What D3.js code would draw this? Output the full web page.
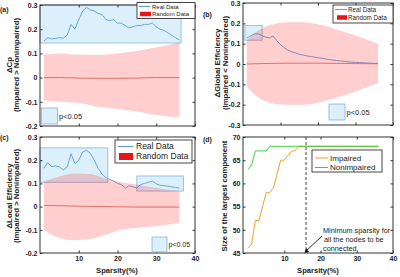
<!DOCTYPE html>
<html>
<head>
<meta charset="utf-8">
<script src="https://cdn.jsdelivr.net/npm/d3@7"></script>
<style>
body { margin: 0; background: #fff; }
svg { display: block; font-family: "Liberation Sans", Arial, sans-serif; }
</style>
</head>
<body>
<svg id="chart" width="400" height="277"></svg>
<script>
// sparsity levels (%)
const sparsity = [1,2,3,4,5,6,7,8,9,10,11,12,13,14,15,16,17,18,19,20,21,22,23,24,25,26,27,28,29,30,31,32,33,34,35,36];
const sparsityD = [0,1,2,3,4,5,6,7,8,9,10,11,12,13,14,15,16,17,18,19,20,21,22,23,24,25,26,27,28,29,30,31,32,33,34,35,36];

// (a) delta Cp
const realCp = [0.15,0.165,0.16,0.162,0.165,0.163,0.175,0.22,0.2,0.24,0.275,0.29,0.28,0.275,0.265,0.26,0.24,0.235,0.24,0.225,0.225,0.215,0.205,0.21,0.215,0.215,0.22,0.22,0.225,0.21,0.2,0.195,0.185,0.175,0.165,0.155];
const bandXA = [1,5,10,15,20,25,30,36];
const upperA = [0.095,0.1,0.095,0.093,0.1,0.11,0.125,0.145];
const lowerA = [-0.095,-0.1,-0.105,-0.12,-0.13,-0.14,-0.155,-0.165];
const meanA  = [0,0,-0.002,-0.003,-0.003,-0.002,0,0];
const sigA = [{x0: 0, x1: 36.4, y0: 0.143, y1: 0.3}];

// (b) delta global efficiency
const realGE = [0.128,0.138,0.148,0.148,0.14,0.132,0.128,0.138,0.115,0.095,0.08,0.068,0.06,0.054,0.048,0.044,0.04,0.037,0.034,0.031,0.028,0.025,0.022,0.019,0.017,0.015,0.013,0.011,0.009,0.008,0.007,0.006,0.005,0.004,0.003,0.003];
const bandXB = [1,3,5,8,12,16,20,25,30,36];
const upperB = [0.115,0.15,0.175,0.195,0.205,0.205,0.195,0.17,0.14,0.1];
const lowerB = [-0.11,-0.15,-0.175,-0.195,-0.2,-0.2,-0.19,-0.165,-0.135,-0.095];
const meanB  = [0,0.001,0.002,0.003,0.004,0.004,0.004,0.003,0.002,0.001];
const sigB = [{x0: 0.5, x1: 5.1, y0: 0.117, y1: 0.19}];

// (c) delta local efficiency
const realLE = [0.165,0.19,0.172,0.175,0.172,0.158,0.17,0.228,0.185,0.2,0.235,0.243,0.23,0.2,0.165,0.14,0.125,0.118,0.11,0.1,0.095,0.08,0.09,0.085,0.08,0.095,0.1,0.105,0.11,0.098,0.092,0.09,0.088,0.085,0.082,0.08];
const bandXC = [1,5,9,13,17,21,25,30,36];
const upperC = [0.108,0.13,0.143,0.14,0.12,0.105,0.095,0.08,0.065];
const lowerC = [-0.1,-0.135,-0.145,-0.14,-0.12,-0.1,-0.092,-0.085,-0.07];
const meanC  = [0.005,0.004,0.002,0.001,0,-0.001,-0.002,-0.002,-0.002];
const sigC = [{x0: 0, x1: 17.5, y0: 0.105, y1: 0.253}, {x0: 25, x1: 37, y0: 0.067, y1: 0.132}];

// (d) size of the largest component
const impaired    = [46,47,52,52,55,58,58,59,62,65,65,66,67,67,68,68,68,68,68,68,68,68,68,68,68,68,68,68,68,68,68,68,68,68,68,68,68];
const nonimpaired = [63,64,67,67,67,67,68,68,68,68,68,68,68,68,68,68,68,68,68,68,68,68,68,68,68,68,68,68,68,68,68,68,68,68,68,68,68];
const minSparsity = 16;

const ticksX = [10, 20, 30, 40];
const ticksY1 = [-0.2, -0.1, 0, 0.1, 0.2, 0.3];
const ticksY2 = [-0.3, -0.2, -0.1, 0, 0.1, 0.2, 0.3];
const ticksYD = [45, 50, 55, 60, 65, 70];

const blueLine = "#5e9dd3";
const boxFill = "#dcf0fb";
const boxStroke = "#88b4d6";
const bandFill = "#ff0000";

const svg = d3.select("#chart");

function panel(p) {
    const x = d3.scaleLinear().domain(p.xdom).range([p.left, p.right]);
    const y = d3.scaleLinear().domain(p.ydom).range([p.bottom, p.top]);
    const g = svg.append("g");
    return {x, y, g, p};
}

function frame(P, xLabels, yTicks) {
    const {x, y, g, p} = P;
    const fmt = v => String(v);
    g.append("g").attr("transform", `translate(${p.left},0)`)
        .call(d3.axisLeft(y).tickValues(yTicks).tickSize(-2.5).tickSizeOuter(0).tickPadding(2.5).tickFormat(fmt));
    g.append("g").attr("transform", `translate(${p.right},0)`)
        .call(d3.axisRight(y).tickValues(yTicks).tickSize(-2.5).tickSizeOuter(0).tickFormat(""));
    g.append("g").attr("transform", `translate(0,${p.bottom})`)
        .call(d3.axisBottom(x).tickValues(ticksX).tickSize(-2.5).tickSizeOuter(0).tickPadding(3.5)
            .tickFormat(xLabels ? fmt : ""));
    g.append("g").attr("transform", `translate(0,${p.top})`)
        .call(d3.axisTop(x).tickValues(ticksX).tickSize(-2.5).tickSizeOuter(0).tickFormat(""));
    g.selectAll(".domain").remove();
    g.selectAll(".tick line").attr("stroke", "#333");
    g.selectAll(".tick text").attr("fill", "#222").style("font-size", "7px").style("font-weight", "bold")
        .style("font-family", '"Liberation Sans", Arial, sans-serif');
    g.append("rect").attr("x", p.left).attr("y", p.top)
        .attr("width", p.right - p.left).attr("height", p.bottom - p.top)
        .attr("fill", "none").attr("stroke", "#333").attr("stroke-width", 1);
}

function significance(P, boxes) {
    const {x, y, g} = P;
    g.selectAll(null).data(boxes).join("rect")
        .attr("x", d => x(d.x0)).attr("y", d => y(d.y1))
        .attr("width", d => x(d.x1) - x(d.x0)).attr("height", d => y(d.y0) - y(d.y1))
        .attr("fill", boxFill).attr("stroke", boxStroke).attr("stroke-width", 0.8);
}

function realLine(P, vals) {
    const {x, y, g} = P;
    g.append("path").datum(vals)
        .attr("d", d3.line().x((d, i) => x(sparsity[i])).y(d => y(d)))
        .attr("fill", "none").attr("stroke", blueLine).attr("stroke-width", 0.9);
}

function randomBand(P, bx, up, lo, mean) {
    const {x, y, g} = P;
    g.append("path").datum(bx)
        .attr("d", d3.area().curve(d3.curveMonotoneX)
            .x(d => x(d)).y0((d, i) => y(lo[i])).y1((d, i) => y(up[i])))
        .attr("fill", bandFill).attr("fill-opacity", 0.19);
    g.append("path").datum(bx)
        .attr("d", d3.line().curve(d3.curveMonotoneX).x(d => x(d)).y((d, i) => y(mean[i])))
        .attr("fill", "none").attr("stroke", "#e06464").attr("stroke-width", 0.9);
}

function legend(g, box, items, fs) {
    g.append("rect").attr("x", box.x).attr("y", box.y).attr("width", box.w).attr("height", box.h)
        .attr("fill", "#fff").attr("stroke", "#333").attr("stroke-width", 0.9);
    items.forEach(it => {
        if (it.type === "line") {
            g.append("line").attr("x1", it.sx).attr("x2", it.sx + it.sw).attr("y1", it.y).attr("y2", it.y)
                .attr("stroke", it.color).attr("stroke-width", 1);
        } else {
            g.append("rect").attr("x", it.sx).attr("y", it.y - it.sh / 2).attr("width", it.sw).attr("height", it.sh)
                .attr("fill", it.color);
        }
        g.append("text").attr("x", it.tx).attr("y", it.y).attr("dy", "0.35em")
            .style("font-size", fs + "px").attr("fill", "#222").text(it.label);
    });
}

function pLegend(g, bx, by, size, fs) {
    g.append("rect").attr("x", bx).attr("y", by).attr("width", size).attr("height", size)
        .attr("fill", boxFill).attr("stroke", boxStroke).attr("stroke-width", 0.8);
    g.append("text").attr("x", bx + size + 1.5).attr("y", by + size / 2).attr("dy", "0.35em")
        .style("font-size", fs + "px").attr("fill", "#222").text("p<0.05");
}

function yTitle(g, lines, cx, cy, fs) {
    lines.forEach((t, i) => {
        g.append("text").attr("transform", `translate(${cx[i]},${cy}) rotate(-90)`)
            .attr("text-anchor", "middle").attr("dy", "0.35em")
            .style("font-size", fs + "px").style("font-weight", "bold").attr("fill", "#222").text(t);
    });
}

function tag(t, tx, ty) {
    svg.append("text").attr("x", tx).attr("y", ty).style("font-size", "7px").style("font-weight", "bold")
        .attr("fill", "#222").text(t);
}

// ---- (a)
const A = panel({left: 40, right: 195, top: 5, bottom: 126, xdom: [0, 40], ydom: [-0.2, 0.3]});
significance(A, sigA);
realLine(A, realCp);
randomBand(A, bandXA, upperA, lowerA, meanA);
frame(A, false, ticksY1);
legend(A.g, {x: 137, y: 2.5, w: 58, h: 16}, [
    {type: "line", label: "Real Data", color: blueLine, sx: 139, sw: 11, y: 6.5, tx: 152},
    {type: "rect", label: "Random Data", color: "#e8141c", sx: 140, sw: 11, sh: 4.5, y: 14, tx: 152}
], 6);
pLegend(A.g, 41.5, 108, 16, 7.5);
yTitle(A.g, ["\u0394Cp", "(Impaired > Nonimpaired)"], [9, 16.5], 65, 7.8);
tag("(a)", 0, 12);

// ---- (b)
const B = panel({left: 243, right: 393, top: 3, bottom: 125, xdom: [0, 40], ydom: [-0.3, 0.3]});
significance(B, sigB);
realLine(B, realGE);
randomBand(B, bandXB, upperB, lowerB, meanB);
frame(B, false, ticksY2);
legend(B.g, {x: 333, y: 5, w: 60, h: 18}, [
    {type: "line", label: "Real Data", color: blueLine, sx: 335, sw: 12, y: 9.5, tx: 348},
    {type: "rect", label: "Random Data", color: "#e8141c", sx: 337, sw: 10, sh: 4.5, y: 17.5, tx: 348}
], 6.3);
pLegend(B.g, 329, 104, 16, 7.5);
yTitle(B.g, ["\u0394Global Efficiency", "(Impaired < Nonimpaired)"], [217.5, 225], 63, 7.8);
tag("(b)", 203, 17);

// ---- (c)
const C = panel({left: 40, right: 195, top: 137, bottom: 253, xdom: [0, 40], ydom: [-0.2, 0.3]});
significance(C, sigC);
realLine(C, realLE);
randomBand(C, bandXC, upperC, lowerC, meanC);
frame(C, true, ticksY1);
legend(C.g, {x: 115, y: 140, w: 77, h: 23}, [
    {type: "line", label: "Real Data", color: blueLine, sx: 118, sw: 15, y: 146.5, tx: 136},
    {type: "rect", label: "Random Data", color: "#e8141c", sx: 119, sw: 14, sh: 7, y: 156.5, tx: 136}
], 8.5);
pLegend(C.g, 152, 237, 15, 7);
yTitle(C.g, ["\u0394Local Efficiency", "(Impaired > Nonimpaired)"], [9, 16.5], 196, 7.8);
C.g.append("text").attr("x", 117).attr("y", 273).attr("text-anchor", "middle")
    .style("font-size", "7.6px").style("font-weight", "bold").attr("fill", "#222").text("Sparsity(%)");
tag("(c)", 0, 140);

// ---- (d)
const D = panel({left: 243, right: 393, top: 137, bottom: 253, xdom: [-1.4, 40], ydom: [45, 70]});
const lineD = d3.line().x((d, i) => D.x(sparsityD[i])).y(d => D.y(d));
D.g.append("path").datum(impaired).attr("d", lineD)
    .attr("fill", "none").attr("stroke", "#f0a030").attr("stroke-width", 1);
D.g.append("path").datum(nonimpaired).attr("d", lineD)
    .attr("fill", "none").attr("stroke", "#3ccf3c").attr("stroke-width", 1);
D.g.append("line").attr("x1", D.x(minSparsity)).attr("x2", D.x(minSparsity))
    .attr("y1", D.y(70)).attr("y2", D.y(45))
    .attr("stroke", "#333").attr("stroke-width", 0.9).attr("stroke-dasharray", "3,2");
frame(D, true, ticksYD);
legend(D.g, {x: 312, y: 150, w: 70, h: 22}, [
    {type: "line", label: "Impaired", color: "#f0a030", sx: 315, sw: 13, y: 158, tx: 330},
    {type: "line", label: "Nonimpaired", color: "#3ccf3c", sx: 315, sw: 13, y: 167.5, tx: 330}
], 8);
yTitle(D.g, ["Size of the largest component"], [224], 196, 7.8);
const note = D.g.append("text").style("font-size", "7.3px").attr("fill", "#222");
["Minimum sparsity for", "all the nodes to be", "connected"].forEach((t, i) => {
    note.append("tspan").attr("x", i === 1 ? 324 : 323).attr("y", 232.5 + i * 9).text(t);
});
// arrow pointing at the dashed line
D.g.append("line").attr("x1", 322).attr("y1", 236).attr("x2", D.x(minSparsity) - 1).attr("y2", 252)
    .attr("stroke", "#111").attr("stroke-width", 0.9);
D.g.append("path")
    .attr("d", d3.symbol().type(d3.symbolTriangle).size(10))
    .attr("transform", `translate(${D.x(minSparsity) + 0.5},${251}) rotate(-128)`)
    .attr("fill", "#111");
D.g.append("text").attr("x", 318).attr("y", 273).attr("text-anchor", "middle")
    .style("font-size", "7.6px").style("font-weight", "bold").attr("fill", "#222").text("Sparsity(%)");
tag("(d)", 203, 142);
</script>
</body>
</html>
